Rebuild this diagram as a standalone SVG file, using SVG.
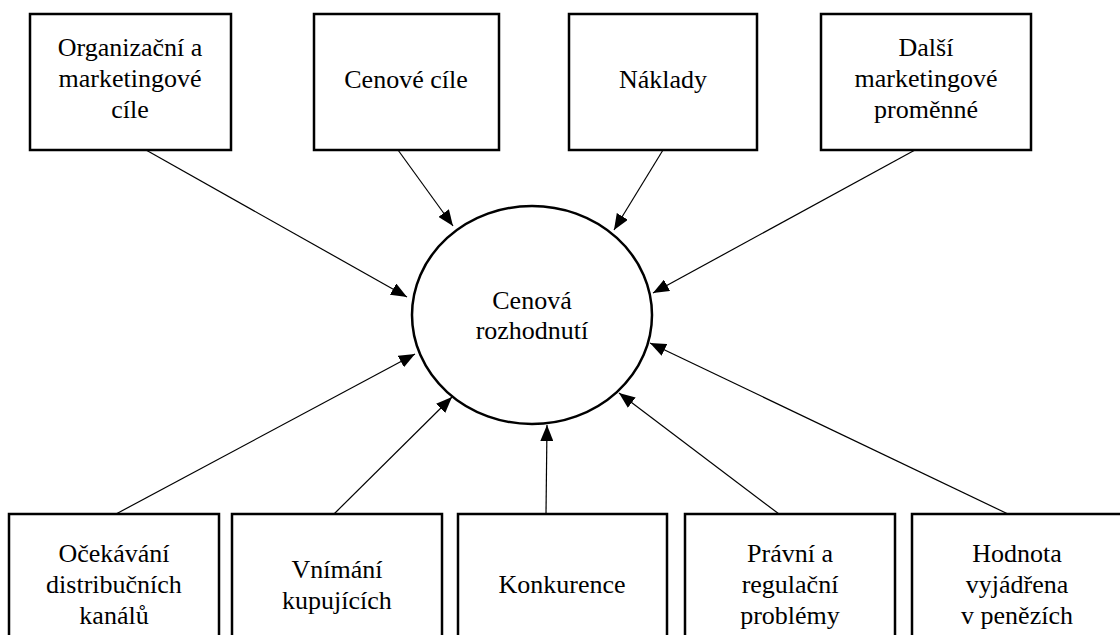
<svg xmlns="http://www.w3.org/2000/svg" width="1120" height="635" viewBox="0 0 1120 635">
<style>
.box{fill:#fff;stroke:#000;stroke-width:2.5}
.hub{fill:#fff;stroke:#000;stroke-width:2.5}
.lbl{font-family:"Liberation Serif","Times New Roman",serif;font-size:26px;fill:#000;text-anchor:middle}
.con line{stroke:#000;stroke-width:1.2;marker-end:url(#arr)}
</style>
<defs>
<marker id="arr" markerUnits="userSpaceOnUse" markerWidth="16" markerHeight="13" refX="16" refY="6.5" orient="auto">
<path d="M0,0 L16,6.5 L0,13 z" fill="#000"/>
</marker>
</defs>
<rect width="1120" height="635" fill="#fff"/>
<g id="connectors" class="con">
<line x1="146" y1="150" x2="407" y2="297"/>
<line x1="398" y1="150" x2="453" y2="226"/>
<line x1="663" y1="150" x2="614" y2="230"/>
<line x1="915" y1="150" x2="653" y2="293"/>
<line x1="116" y1="514" x2="415" y2="354"/>
<line x1="334" y1="514" x2="452" y2="397"/>
<line x1="546" y1="514" x2="547" y2="425"/>
<line x1="779" y1="514" x2="619" y2="393"/>
<line x1="1008" y1="514" x2="650" y2="343"/>
</g>
<g id="hub">
<ellipse class="hub" cx="532" cy="315" rx="120" ry="109"/>
<text class="lbl" x="532" y="309">Cenová</text>
<text class="lbl" x="532" y="339">rozhodnutí</text>
</g>
<g id="n1">
<rect class="box" x="30" y="14" width="201" height="136"/>
<text class="lbl" x="130" y="56">Organizační a</text>
<text class="lbl" x="130" y="87">marketingové</text>
<text class="lbl" x="130" y="118">cíle</text>
</g>
<g id="n2">
<rect class="box" x="314" y="14" width="185" height="136"/>
<text class="lbl" x="406" y="88">Cenové cíle</text>
</g>
<g id="n3">
<rect class="box" x="569" y="14" width="188" height="136"/>
<text class="lbl" x="663" y="88">Náklady</text>
</g>
<g id="n4">
<rect class="box" x="821" y="14" width="210" height="136"/>
<text class="lbl" x="926" y="56">Další</text>
<text class="lbl" x="926" y="87">marketingové</text>
<text class="lbl" x="926" y="118">proměnné</text>
</g>
<g id="n5">
<rect class="box" x="9" y="514" width="210" height="140"/>
<text class="lbl" x="114" y="562">Očekávání</text>
<text class="lbl" x="114" y="593">distribučních</text>
<text class="lbl" x="114" y="624">kanálů</text>
</g>
<g id="n6">
<rect class="box" x="232" y="514" width="210" height="140"/>
<text class="lbl" x="337" y="578">Vnímání</text>
<text class="lbl" x="337" y="609">kupujících</text>
</g>
<g id="n7">
<rect class="box" x="458" y="514" width="209" height="140"/>
<text class="lbl" x="562" y="593">Konkurence</text>
</g>
<g id="n8">
<rect class="box" x="685" y="514" width="210" height="140"/>
<text class="lbl" x="790" y="562">Právní a</text>
<text class="lbl" x="790" y="593">regulační</text>
<text class="lbl" x="790" y="624">problémy</text>
</g>
<g id="n9">
<rect class="box" x="912" y="514" width="212" height="140"/>
<text class="lbl" x="1017" y="562">Hodnota</text>
<text class="lbl" x="1017" y="593">vyjádřena</text>
<text class="lbl" x="1017" y="624">v penězích</text>
</g>
</svg>
